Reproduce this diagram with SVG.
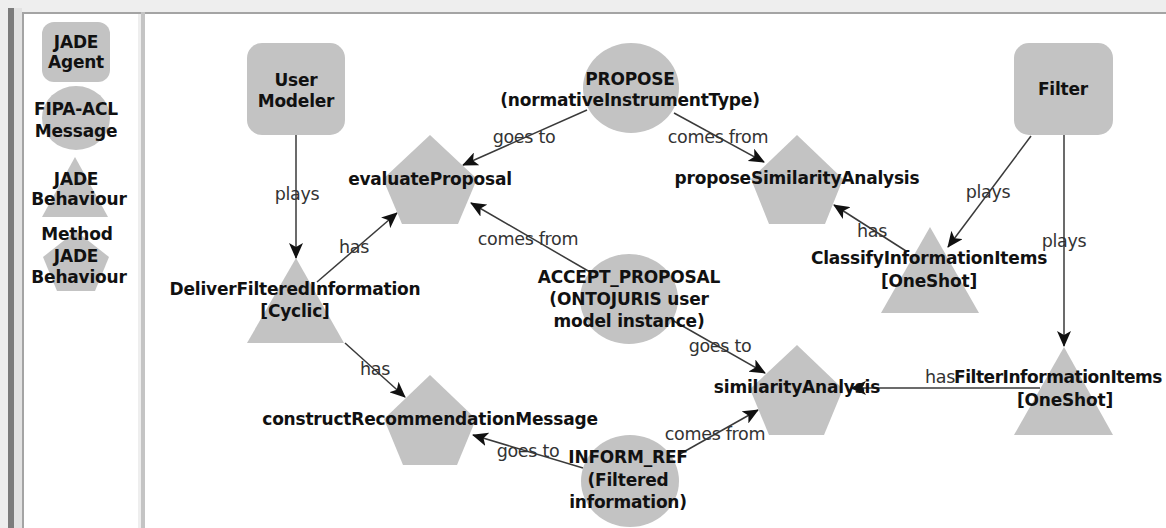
<svg xmlns="http://www.w3.org/2000/svg" width="1166" height="528" viewBox="0 0 1166 528">
<defs>
<style>
.shape{fill:#c3c3c3;stroke:none}
.nt{font-family:"DejaVu Sans",Verdana,sans-serif;font-weight:bold;font-size:17px;fill:#111;text-anchor:middle;letter-spacing:-0.2px}
.lb{font-family:"DejaVu Sans",Verdana,sans-serif;font-size:17.5px;fill:#333;text-anchor:middle;letter-spacing:-0.3px}
.edge{stroke:#3a3a3a;stroke-width:1.5;fill:none;marker-end:url(#arr)}
</style>
<marker id="arr" markerUnits="userSpaceOnUse" markerWidth="18" markerHeight="14" refX="15" refY="7" orient="auto">
<path d="M0,0 L16,7 L0,14 L4,7 z" fill="#111"/>
</marker>
</defs>
<g id="frame">
<rect x="0" y="0" width="1166" height="528" fill="#eeeeee"/>
<rect x="8" y="8" width="6" height="520" fill="#7c7c7c"/>
<rect x="14" y="8" width="8" height="520" fill="#e2e2e2"/>
<rect x="22" y="12" width="1144" height="2" fill="#a4a4a4"/>
<rect x="22" y="12" width="2" height="516" fill="#a4a4a4"/>
<rect x="24" y="14" width="114" height="514" fill="#ffffff"/>
<rect x="141" y="12" width="4" height="516" fill="#c4c4c4"/>
<rect x="145" y="14" width="1021" height="514" fill="#ffffff"/>
</g>
<g id="legend">
<g id="legend-agent">
<rect class="shape" x="42" y="22" width="68" height="60" rx="12"/>
<text class="nt" x="76" y="48">JADE</text>
<text class="nt" x="76" y="68">Agent</text>
</g>
<g id="legend-message">
<ellipse class="shape" cx="76" cy="118" rx="34" ry="32"/>
<text class="nt" x="76" y="115">FIPA-ACL</text>
<text class="nt" x="76" y="137">Message</text>
</g>
<g id="legend-behaviour">
<polygon class="shape" points="75,157 108,217 42,217"/>
<text class="nt" x="76" y="185">JADE</text>
<text class="nt" x="79" y="205">Behaviour</text>
</g>
<g id="legend-method">
<polygon class="shape" points="76,231 109,257 95,291 57,291 43,257"/>
<text class="nt" x="77" y="240">Method</text>
<text class="nt" x="76" y="262">JADE</text>
<text class="nt" x="79" y="283">Behaviour</text>
</g>
</g>
<g id="connectors">
<g id="e-um-deliver"><line class="edge" x1="296" y1="135" x2="296" y2="258"/><text class="lb" x="297" y="200">plays</text></g>
<g id="e-deliver-eval"><line class="edge" x1="317" y1="282" x2="397" y2="213"/><text class="lb" x="354" y="253">has</text></g>
<g id="e-propose-eval"><line class="edge" x1="587" y1="110" x2="463" y2="165"/><text class="lb" x="524" y="143">goes to</text></g>
<g id="e-propose-psa"><line class="edge" x1="674" y1="113" x2="764" y2="162"/><text class="lb" x="718" y="143">comes from</text></g>
<g id="e-accept-eval"><line class="edge" x1="590" y1="272" x2="471" y2="203"/><text class="lb" x="528" y="245">comes from</text></g>
<g id="e-accept-sim"><line class="edge" x1="672" y1="320" x2="765" y2="373"/><text class="lb" x="720" y="352">goes to</text></g>
<g id="e-inform-sim"><line class="edge" x1="680" y1="454" x2="758" y2="410"/><text class="lb" x="715" y="440">comes from</text></g>
<g id="e-inform-construct"><line class="edge" x1="583" y1="468" x2="473" y2="435"/><text class="lb" x="528" y="457">goes to</text></g>
<g id="e-deliver-construct"><line class="edge" x1="345" y1="343" x2="405" y2="397"/><text class="lb" x="375" y="375">has</text></g>
<g id="e-filter-classify"><line class="edge" x1="1031" y1="136" x2="948" y2="247"/><text class="lb" x="988" y="198">plays</text></g>
<g id="e-filter-fii"><line class="edge" x1="1064" y1="135" x2="1064" y2="346"/><text class="lb" x="1064" y="247">plays</text></g>
<g id="e-classify-psa"><line class="edge" x1="906" y1="251" x2="834" y2="205"/><text class="lb" x="872" y="237">has</text></g>
<g id="e-fii-sim"><line class="edge" x1="1040" y1="388" x2="851" y2="388"/><text class="lb" x="940" y="383">has</text></g>
</g>
<g id="n-usermodeler">
<rect class="shape" x="247" y="43" width="98" height="92" rx="15"/>
<text class="nt" x="296" y="86">User</text>
<text class="nt" x="296" y="107">Modeler</text>
</g>
<g id="n-propose">
<ellipse class="shape" cx="631" cy="88" rx="48" ry="45"/>
<text class="nt" x="630" y="85">PROPOSE</text>
<text class="nt" x="630" y="106">(normativeInstrumentType)</text>
</g>
<g id="n-filter">
<rect class="shape" x="1014" y="43" width="99" height="92" rx="15"/>
<text class="nt" x="1063" y="95">Filter</text>
</g>
<g id="n-evaluateproposal">
<polygon class="shape" points="430,135 477,179 458,224 402,224 383,179"/>
<text class="nt" x="430" y="185">evaluateProposal</text>
</g>
<g id="n-proposesimilarityanalysis">
<polygon class="shape" points="797,135 843,179 825,224 769,224 751,179"/>
<text class="nt" x="797" y="184">proposeSimilarityAnalysis</text>
</g>
<g id="n-deliver">
<polygon class="shape" points="296,258 344,343 247,343"/>
<text class="nt" x="295" y="295">DeliverFilteredInformation</text>
<text class="nt" x="295" y="317">[Cyclic]</text>
</g>
<g id="n-accept">
<ellipse class="shape" cx="629" cy="299" rx="49" ry="45"/>
<text class="nt" x="629" y="283">ACCEPT_PROPOSAL</text>
<text class="nt" x="629" y="305">(ONTOJURIS user</text>
<text class="nt" x="629" y="327">model instance)</text>
</g>
<g id="n-classify">
<polygon class="shape" points="930,227 979,313 881,313"/>
<text class="nt" x="929" y="264">ClassifyInformationItems</text>
<text class="nt" x="929" y="287">[OneShot]</text>
</g>
<g id="n-construct">
<polygon class="shape" points="430,375 476,419 457,465 403,465 384,419"/>
<text class="nt" x="430" y="425">constructRecommendationMessage</text>
</g>
<g id="n-similarity">
<polygon class="shape" points="797,345 843,389 824,435 769,435 750,389"/>
<text class="nt" x="797" y="393">similarityAnalysis</text>
</g>
<g id="n-filterinfo">
<polygon class="shape" points="1064,347 1113,435 1014,435"/>
<text class="nt" x="1058" y="383" style="letter-spacing:-0.45px">FilterInformationItems</text>
<text class="nt" x="1065" y="406">[OneShot]</text>
</g>
<g id="n-inform">
<ellipse class="shape" cx="630" cy="481" rx="49" ry="46"/>
<text class="nt" x="628" y="463">INFORM_REF</text>
<text class="nt" x="628" y="486">(Filtered</text>
<text class="nt" x="628" y="508">information)</text>
</g>
</svg>
